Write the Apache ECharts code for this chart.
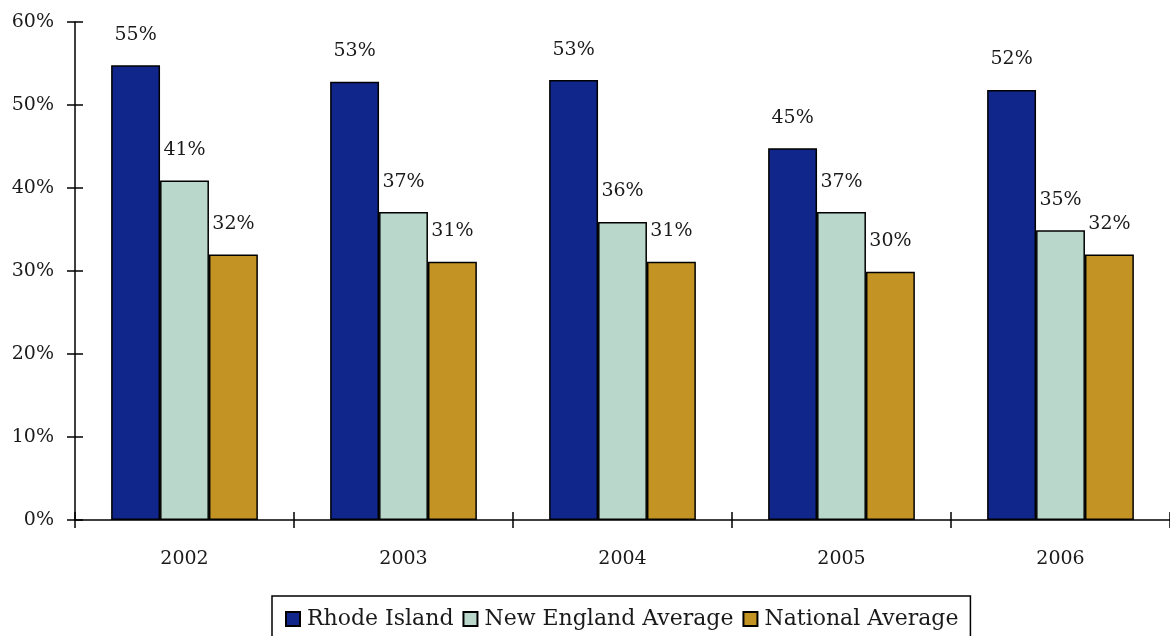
<!DOCTYPE html>
<html>
<head>
<meta charset="utf-8">
<script src="https://cdn.jsdelivr.net/npm/echarts@6/dist/echarts.min.js"></script>
<style>
  html, body { margin: 0; padding: 0; background: #fff; }
  #chart { width: 1170px; height: 636px; }
</style>
</head>
<body>
<div id="chart"></div>
<script>
var years = ['2002', '2003', '2004', '2005', '2006'];
var rhodeIsland = [54.8, 52.8, 53.0, 44.8, 51.8];
var newEngland = [40.9, 37.1, 35.9, 37.1, 34.9];
var national = [32.0, 31.1, 31.1, 29.9, 32.0];

var serif = '"DejaVu Serif", "Liberation Serif", serif';
var ink = '#1a1a1a';
var axisLine = { show: true, lineStyle: { color: '#000', width: 1.5 } };

function bar(name, data, color) {
    return {
        name: name,
        type: 'bar',
        data: data,
        barGap: '0%',
        barCategoryGap: '33%',
        itemStyle: { color: color, borderColor: '#000', borderWidth: 1.5 },
        label: {
            show: true,
            position: 'top',
            distance: 21,
            color: ink,
            fontFamily: serif,
            fontSize: 19,
            formatter: function(p) { return Math.round(p.value) + '%'; }
        }
    };
}

var chart = echarts.init(document.getElementById('chart'));
chart.setOption({
    animation: false,
    grid: { left: 75, right: 0, top: 22, bottom: 116, containLabel: false },
    legend: {
        top: 596,
        left: 272,
        icon: 'rect',
        itemWidth: 14,
        itemHeight: 14,
        itemGap: 9,
        padding: [12, 12, 30, 13],
        borderColor: '#000',
        borderWidth: 1.5,
        textStyle: { fontFamily: serif, fontSize: 22, color: ink, padding: [0, 0, 0, 2] },
        data: ['Rhode Island', 'New England Average', 'National Average']
    },
    xAxis: [{
        type: 'category',
        data: years,
        axisLine: axisLine,
        axisTick: { show: true, length: 8, lineStyle: { color: '#000', width: 1.5 } },
        axisLabel: { fontFamily: serif, fontSize: 19, color: ink, margin: 30 }
    }, {
        type: 'category',
        data: years,
        position: 'bottom',
        axisLine: { show: false },
        axisTick: { show: true, inside: true, length: 8, lineStyle: { color: '#000', width: 1.5 } },
        axisLabel: { show: false }
    }],
    yAxis: [{
        type: 'value',
        min: 0,
        max: 60,
        interval: 10,
        axisLine: axisLine,
        splitLine: { show: false },
        axisTick: { show: true, length: 8, lineStyle: { color: '#000', width: 1.5 } },
        axisLabel: { fontFamily: serif, fontSize: 19, color: ink, margin: 21, formatter: '{value}%' }
    }, {
        type: 'value',
        min: 0,
        max: 60,
        interval: 10,
        position: 'left',
        axisLine: { show: false },
        splitLine: { show: false },
        axisTick: { show: true, inside: true, length: 8, lineStyle: { color: '#000', width: 1.5 } },
        axisLabel: { show: false }
    }],
    series: [
        bar('Rhode Island', rhodeIsland, '#10268A'),
        bar('New England Average', newEngland, '#B9D7CB'),
        bar('National Average', national, '#C39423')
    ]
});
</script>
</body>
</html>
